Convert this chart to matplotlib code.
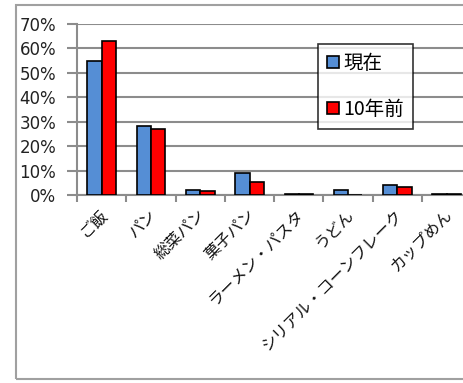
import matplotlib
matplotlib.use("Agg")
import matplotlib.pyplot as plt
from matplotlib.patches import Rectangle
from matplotlib.ticker import FixedLocator, PercentFormatter
import numpy as np

plt.rcParams['font.family'] = ['Noto Sans CJK JP', 'DejaVu Sans']

categories = ["ご飯", "パン", "総菜パン", "菓子パン", "ラーメン・パスタ",
              "うどん", "シリアル・コーンフレーク", "カップめん"]
now_pct = [54.7, 28.4, 2.0, 8.9, 0.4, 2.2, 4.1, 0.4]
ten_years_ago_pct = [63.0, 26.9, 1.6, 5.2, 0.3, 0.0, 3.2, 0.3]
series_labels = ["現在", "10年前"]
yticks = [0, 10, 20, 30, 40, 50, 60, 70]

W, H = 463, 383
fig = plt.figure(figsize=(W / 100, H / 100), dpi=100)

# outer chart frame (runs off the right edge)
frame = Rectangle((16 / W, 1 - 379 / H), 1.2, (379 - 5) / H,
                  transform=fig.transFigure, fill=False,
                  edgecolor="#a0a0a0", linewidth=1.5, clip_on=False)
fig.add_artist(frame)

left, right = 77 / W, 471.4 / W
bottom, top = 1 - 195 / H, 1 - 24 / H
ax = fig.add_axes([left, bottom, right - left, top - bottom])

x = np.arange(len(categories))
bw = 0.29
ax.bar(x - bw / 2, now_pct, bw, color="#558ed5", edgecolor="black",
       linewidth=1.2, label=series_labels[0], zorder=3)
ax.bar(x + bw / 2, ten_years_ago_pct, bw, color="#ff0000", edgecolor="black",
       linewidth=1.2, label=series_labels[1], zorder=3)

ax.set_xlim(-0.5, len(categories) - 0.5)
ax.set_ylim(0, 70)
ax.set_yticks(yticks)
ax.yaxis.set_major_formatter(PercentFormatter(decimals=0))
ax.grid(axis="y", color="#8c8c8c", linewidth=1.5, zorder=0)
ax.set_axisbelow(True)

for s in ["top", "right"]:
    ax.spines[s].set_visible(False)
ax.spines["left"].set_color("#8c8c8c")
ax.spines["left"].set_linewidth(1.5)
ax.spines["bottom"].set_color("#8c8c8c")
ax.spines["bottom"].set_linewidth(1.5)

ax.tick_params(axis="y", length=7, width=1.5, color="#8c8c8c", pad=8)
for lbl in ax.get_yticklabels():
    lbl.set_fontfamily(["DejaVu Sans"])
    lbl.set_fontsize(12)
    lbl.set_color("#222222")
ax.xaxis.set_major_locator(FixedLocator(np.arange(len(categories) + 1) - 0.5))
ax.xaxis.set_major_formatter(plt.NullFormatter())
ax.tick_params(axis="x", length=5, width=1.5, color="#8c8c8c")

for i, name in enumerate(categories):
    ax.annotate(name, xy=(i, 0), xycoords=("data", "axes fraction"),
                xytext=(3, -17), textcoords="offset pixels",
                rotation=45, rotation_mode="anchor", ha="right", va="center",
                fontsize=11.5, color="#111111")

leg = ax.legend(loc="upper left",
                bbox_to_anchor=((318 - 77) / (471.4 - 77), (195 - 44) / 171),
                frameon=True, fancybox=False, edgecolor="black", fontsize=14,
                handlelength=0.62, handleheight=0.62, handletextpad=0.25,
                labelspacing=1.3, borderpad=0.45, borderaxespad=0)
leg.get_frame().set_linewidth(1.2)
leg.set_zorder(5)

fig.savefig("out.png", dpi=100)
